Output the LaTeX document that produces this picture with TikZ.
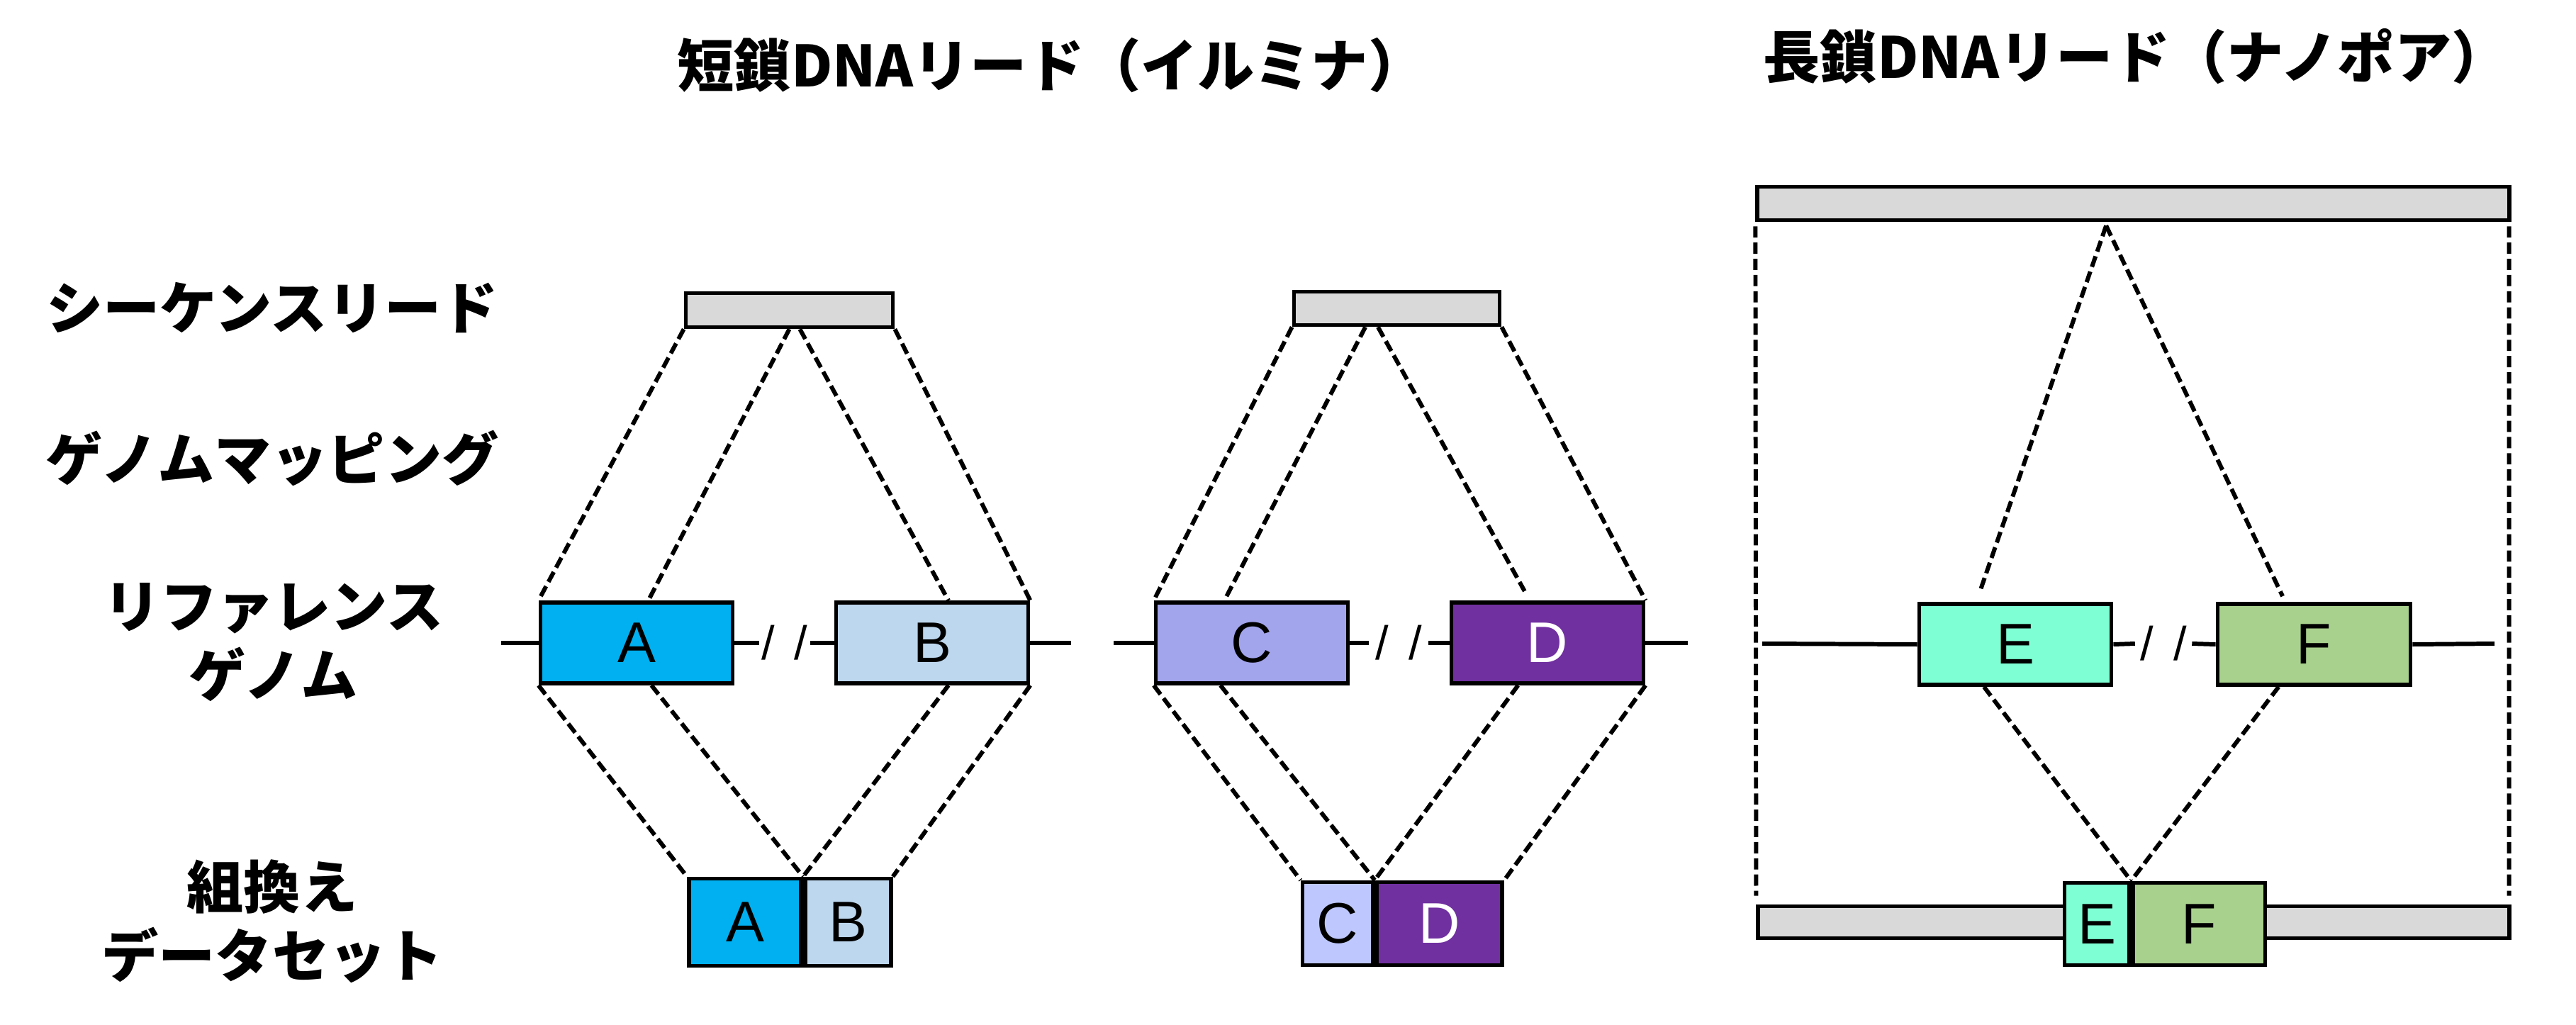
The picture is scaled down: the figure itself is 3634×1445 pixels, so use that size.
\documentclass[tikz,border=0pt]{standalone}
\usepackage{fontspec}
\setmainfont{Liberation Sans}
\newfontfamily\jp{Noto Sans CJK JP}
\usetikzlibrary{calc}
\definecolor{barc}{HTML}{D9D9D9}
\definecolor{colA}{HTML}{00B0F0}
\definecolor{colB}{HTML}{BDD7EE}
\definecolor{colC}{HTML}{A2A4EC}
\definecolor{colCs}{HTML}{BEC8FF}
\definecolor{colD}{HTML}{7030A0}
\definecolor{colE}{HTML}{7FFFD4}
\definecolor{colF}{HTML}{A9D18E}
\tikzset{
  gene/.style={draw, line width=1.6pt, inner sep=0pt, minimum height=1.14cm,
    font=\fontsize{23}{23}\selectfont},
  bar/.style={draw, line width=1.6pt, fill=barc, inner sep=0pt},
  title/.style={font=\jp\bfseries\fontsize{22.8}{26}\selectfont, inner sep=0pt},
  rowlabel/.style={font=\jp\bfseries\fontsize{22.8}{27.6}\selectfont, align=center, inner sep=0pt},
  map/.style={line width=1.7pt, dash pattern=on 4.5pt off 2pt},
  refline/.style={line width=1.7pt},
  slash/.style={inner sep=0pt, minimum height=0.5cm, font=\fontsize{19}{19}\selectfont}
}
\begin{document}
\begin{tikzpicture}[x=0.01cm,y=-0.01cm]
\useasboundingbox (0,0) rectangle (3634,1445);

% titles
\node[title] (t1) at (1483,92) {短鎖DNAリード（イルミナ）};
\node[title] (t2) at (3013,80) {長鎖DNAリード（ナノポア）};

% row labels
\node[rowlabel] (l1) at (384,434) {シーケンスリード};
\node[rowlabel] (l2) at (384,646) {ゲノムマッピング};
\node[rowlabel] (l3) at (386,906) {リファレンス\\ゲノム};
\node[rowlabel] (l4) at (384,1300) {組換え\\データセット};

% ===== section 1 =====
\node[bar, minimum width=2.92cm, minimum height=0.48cm] (bar1) at (1113.5,437.5) {};
\node[gene, fill=colA, minimum width=2.71cm] (A) at (898,907) {A};
\node[gene, fill=colB, minimum width=2.71cm] (B) at (1315,907) {B};
\node[slash, minimum width=0.70cm] (s1) at (1107,907) {/\kern0.42em/};
\coordinate (l1e) at (707,907);
\coordinate (r1e) at (1511,907);
\draw[refline] (l1e) -- (A.west) (A.east) -- (s1.west) (s1.east) -- (B.west) (B.east) -- (r1e);
\node[gene, fill=colA, minimum width=1.58cm, minimum height=1.23cm] (rA) at (1051,1301) {A};
\node[gene, fill=colB, minimum width=1.21cm, minimum height=1.23cm, anchor=west] (rB) at (rA.east) {B};

\draw[map] (bar1.south west) -- (A.north west);
\draw[map] ($(bar1.south west)!0.50!(bar1.south east)$) -- ($(A.north west)!0.56!(A.north east)$);
\draw[map] ($(bar1.south west)!0.55!(bar1.south east)$) -- ($(B.north west)!0.583!(B.north east)$);
\draw[map] (bar1.south east) -- (B.north east);
\draw[map] (A.south west) -- (rA.north west);
\draw[map] ($(A.south west)!0.576!(A.south east)$) -- (rA.north east);
\draw[map] ($(B.south west)!0.583!(B.south east)$) -- (rA.north east);
\draw[map] (B.south east) -- (rB.north east);

% ===== section 2 =====
\node[bar, minimum width=2.90cm, minimum height=0.47cm] (bar2) at (1970.5,435) {};
\node[gene, fill=colC, minimum width=2.71cm] (C) at (1766,907) {C};
\node[gene, fill=colD, minimum width=2.71cm, text=white] (D) at (2183,907) {D};
\node[slash, minimum width=0.82cm] (s2) at (1973,907) {/\kern0.42em/};
\coordinate (l2e) at (1571,907);
\coordinate (r2e) at (2381,907);
\draw[refline] (l2e) -- (C.west) (C.east) -- (s2.west) (s2.east) -- (D.west) (D.east) -- (r2e);
\node[gene, fill=colCs, minimum width=0.99cm, minimum height=1.17cm] (rC) at (1887,1303) {C};
\node[gene, fill=colD, text=white, minimum width=1.77cm, minimum height=1.17cm, anchor=west] (rD) at (rC.east) {D};

\draw[map] (bar2.south west) -- (C.north west);
\draw[map] ($(bar2.south west)!0.35!(bar2.south east)$) -- ($(C.north west)!0.36!(C.north east)$);
\draw[map, shorten >=4.3pt] ($(bar2.south west)!0.41!(bar2.south east)$) -- ($(D.north west)!0.41!(D.north east)$);
\draw[map] (bar2.south east) -- (D.north east);
\draw[map] (C.south west) -- (rC.north west);
\draw[map] ($(C.south west)!0.34!(C.south east)$) -- (rC.north east);
\draw[map] ($(D.south west)!0.35!(D.south east)$) -- (rC.north east);
\draw[map] (D.south east) -- (rD.north east);

% ===== section 3 =====
\node[bar, minimum width=10.60cm, minimum height=0.47cm] (top3) at (3009.5,287) {};
\node[bar, minimum width=10.59cm, minimum height=0.45cm] (bot3) at (3010,1301) {};
\node[gene, fill=colE, minimum width=2.71cm] (E) at (2843,909) {E};
\node[gene, fill=colF, minimum width=2.72cm] (F) at (3264.5,909) {F};
\node[slash, minimum width=0.79cm] (s3) at (3052,908) {/\kern0.42em/};
\coordinate (l3e) at (2486,908);
\coordinate (r3e) at (3519,908);
\draw[refline] (l3e) -- (E.west) (E.east) -- (s3.west) (s3.east) -- (F.west) (F.east) -- (r3e);
\node[gene, fill=colE, minimum width=0.91cm, minimum height=1.16cm] (rE) at (2958,1303.5) {E};
\node[gene, fill=colF, minimum width=1.86cm, minimum height=1.16cm, anchor=west] (rF) at (rE.east) {F};

\coordinate (apex) at ($(top3.south west)!0.464!(top3.south east) + (0,5)$);
\draw[map] (apex) -- ($(E.north west)!0.32!(E.north east) + (0,-15)$);
\draw[map] (apex) -- ($(F.north west)!0.34!(F.north east) + (0,-8)$);
\draw[map] ($(E.south west)!0.34!(E.south east)$) -- (rE.north east);
\draw[map] ($(F.south west)!0.32!(F.south east)$) -- (rE.north east);
\draw[map] ($(top3.south west)+(0,6)$) -- ($(bot3.north west)+(0,-12)$);
\draw[map] ($(top3.south east)+(-3,6)$) -- ($(bot3.north east)+(-3,-12)$);
\end{tikzpicture}
\end{document}
